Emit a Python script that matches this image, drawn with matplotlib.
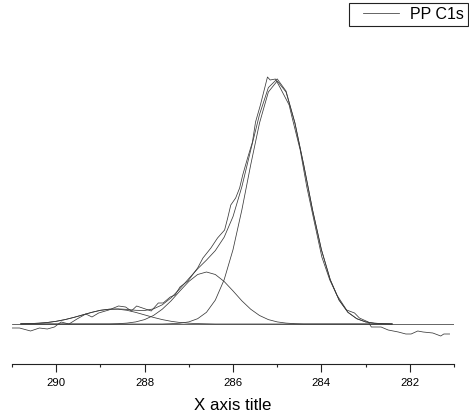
import numpy as np
import matplotlib
matplotlib.use("Agg")
import matplotlib.pyplot as plt
from matplotlib.legend_handler import HandlerLine2D

# raw PP C1s spectrum (binding energy in eV, intensity in arb. units)
raw_energy = [291.01, 290.83, 290.58, 290.38, 290.20, 290.04, 289.89, 289.71, 289.53, 289.33,
              289.19, 289.04, 288.81, 288.59, 288.43, 288.30, 288.18, 287.85, 287.69, 287.58,
              287.42, 287.31, 287.20, 287.02, 286.80, 286.68, 286.50, 286.35, 286.19, 286.12,
              286.05, 285.94, 285.85, 285.78, 285.67, 285.56, 285.49, 285.38, 285.22, 285.16,
              285.04, 284.93, 284.73, 284.66, 284.48, 284.33, 284.17, 283.99, 283.81, 283.65,
              283.43, 283.25, 283.14, 282.94, 282.87, 282.65, 282.49, 282.26, 282.09, 281.97,
              281.82, 281.70, 281.48, 281.30, 281.23, 281.10]
raw_counts = [-4, -4, -7, -4, -5, -3, 2, 0, 5, 10,
              7, 11, 14, 18, 17, 13, 18, 13, 21, 21,
              27, 29, 37, 43, 56, 66, 76, 86, 94, 106,
              119, 126, 136, 149, 166, 182, 202, 219, 247, 244,
              245, 236, 219, 206, 174, 137, 104, 67, 44, 29,
              14, 11, 6, 2, -3, -3, -6, -8, -10, -10,
              -7, -8, -9, -12, -10, -10]

# fitted components
fit_energy = [290.8, 290.6, 290.4, 290.2, 290.0, 289.8, 289.6, 289.4, 289.2, 289.0,
              288.8, 288.6, 288.4, 288.2, 288.0, 287.8, 287.6, 287.4, 287.2, 287.0,
              286.8, 286.6, 286.4, 286.2, 286.0, 285.8, 285.6, 285.4, 285.2, 285.0,
              284.8, 284.6, 284.4, 284.2, 284.0, 283.8, 283.6, 283.4, 283.2, 283.0,
              282.8, 282.6, 282.4]
peak_cc = [0, 0, 0, 0, 0, 0, 0, 0, 0, 0,
           0, 0, 0, 0, 0, 0, 0, 0.3, 0.8, 2.1,
           5.3, 11.7, 23.9, 44.3, 74.3, 114, 159, 201, 232, 243,
           232, 201, 159, 114, 74.3, 44.3, 23.9, 11.7, 5.3, 2.1,
           0.8, 0.3, 0]
peak_co = [0, 0, 0, 0, 0, 0, 0, 0, 0, 0,
           0, 0.3, 0.9, 2.1, 4.4, 8.5, 14.8, 23.2, 33.1, 42.5,
           49.5, 52, 49.5, 42.5, 33.1, 23.2, 14.8, 8.5, 4.4, 2.1,
           0.9, 0.3, 0, 0, 0, 0, 0, 0, 0, 0,
           0, 0, 0]
peak_oco = [0.2, 0.4, 0.8, 1.5, 2.7, 4.4, 6.6, 9.1, 11.6, 13.7,
            14.8, 14.8, 13.7, 11.6, 9.1, 6.6, 4.4, 2.7, 1.5, 0.8,
            0.4, 0.2, 0, 0, 0, 0, 0, 0, 0, 0,
            0, 0, 0, 0, 0, 0, 0, 0, 0, 0,
            0, 0, 0]
baseline_level = 0.0

x_ticks = [290, 288, 286, 284, 282]
x_minor = [291, 289, 287, 285, 283, 281]

fit_sum = np.array(peak_cc) + np.array(peak_co) + np.array(peak_oco)


# legend line sits a bit right of the box edge, like Origin does it
class OffsetLine(HandlerLine2D):
    def create_artists(self, legend, orig_handle, xdescent, ydescent, width, height, fontsize, trans):
        shift = 0.22 * width
        return super().create_artists(legend, orig_handle, xdescent - shift, ydescent,
                                      width - shift, height, fontsize, trans)


plt.rcParams['font.family'] = ['Liberation Sans', 'DejaVu Sans']

fig = plt.figure(figsize=(4.69, 4.13), dpi=100)
ax = fig.add_axes([12 / 469, 49 / 413, 442 / 469, 364 / 413])

lw = 0.55
col = '#3a3a3a'
ax.axhline(baseline_level, color=col, lw=lw)
ax.plot(fit_energy, peak_oco, color=col, lw=lw)
ax.plot(fit_energy, peak_co, color=col, lw=lw)
ax.plot(fit_energy, peak_cc, color=col, lw=lw)
ax.plot(fit_energy, fit_sum, color=col, lw=lw)
raw_line, = ax.plot(raw_energy, raw_counts, color=col, lw=lw, label='PP C1s')

ax.set_xlim(291.0, 281.1)
ax.set_ylim(-40, 324)

ax.set_xticks(x_ticks)
ax.set_xticks(x_minor, minor=True)
ax.tick_params(axis='x', which='major', direction='out', length=5.8, width=0.8,
               labelsize=8.2, pad=4.2, color='#222222')
ax.tick_params(axis='x', which='minor', direction='out', length=2.3, width=0.8,
               color='#222222')
ax.set_yticks([])
for s in ['left', 'right', 'top']:
    ax.spines[s].set_visible(False)
ax.spines['bottom'].set_linewidth(0.8)
ax.spines['bottom'].set_color('#222222')

ax.set_xlabel('X axis title', fontsize=12.2, labelpad=7)

leg = fig.legend(handles=[raw_line], loc='upper right',
                 bbox_to_anchor=(468 / 469, 1 - 3 / 413),
                 borderaxespad=0, fontsize=11.5, fancybox=False, framealpha=1,
                 edgecolor='#222222', borderpad=0.25, handlelength=2.9,
                 handletextpad=0.7, handler_map={raw_line: OffsetLine()})
leg.get_frame().set_linewidth(0.8)

fig.savefig('out.png', dpi=100)
